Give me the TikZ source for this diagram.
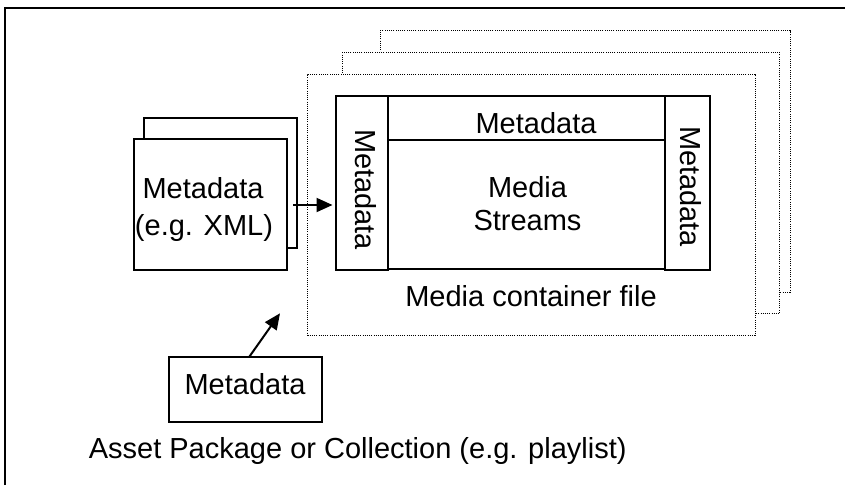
\documentclass[tikz,border=0pt]{standalone}
\usepackage{fontspec}
\setmainfont{Liberation Sans}
\usetikzlibrary{arrows.meta,calc}
\begin{document}
\begin{tikzpicture}[x=1pt,y=-1pt,
  every node/.style={font=\fontsize{29}{34}\selectfont},
  box/.style={draw, line width=2pt, fill=white, inner sep=0pt, outer sep=0pt},
  dotbox/.style={draw, fill=white, line width=1pt, dash pattern=on 1pt off 1.2pt,
                 inner sep=0pt, outer sep=0pt},
  arr/.style={line width=2pt, -{Triangle[length=16pt,width=14pt]}},
  lbl/.style={anchor=base, inner sep=0pt}]
\useasboundingbox (0,0) rectangle (845,485);

% frame round the whole collection
\draw[line width=2pt] (4.5,485) -- (4.5,7.5) -- (845,7.5);

% stack of media container files
\node[dotbox, minimum width=410pt, minimum height=261.3pt] (file3) at (585,161.35) {};
\node[dotbox, minimum width=437pt, minimum height=261.2pt] (file2) at (561,182.9) {};
\node[dotbox, minimum width=447.5pt, minimum height=261pt] (file1) at (531.25,204.5) {};

% container layout
\node[box, minimum width=52pt, minimum height=173.5pt] (metaL) at (361.5,182.75) {};
\node[box, minimum width=277.5pt, minimum height=44.5pt] (metaTop) at (526.25,118.25) {};
\node[box, minimum width=277.5pt, minimum height=129pt] (streams) at (526.25,204.75) {};
\node[box, minimum width=45pt, minimum height=173.5pt] (metaR) at (687.5,182.75) {};

\node[lbl] (tTop) at (536,133) {Metadata};
\node[lbl] (tMedia) at (527.5,197) {Media};
\node[lbl] (tStreams) at (527.5,230.7) {Streams};
\node[lbl, rotate=-90] (tL) at (355,189.5) {Metadata};
\node[lbl, rotate=-90] (tR) at (680,186.5) {Metadata};
\node[lbl] (tFile) at (531,306) {Media container file};

% external metadata documents
\node[box, minimum width=153pt, minimum height=130.6pt] (xmlBack) at (220.8,183) {};
\node[box, minimum width=152.7pt, minimum height=130.7pt] (xmlFront) at (210.35,204.65) {};
\node[lbl] (tXml1) at (203,198) {Metadata};
\node[lbl] (tXml2) at (204,235) {(e.g. XML)};

% collection level metadata
\node[box, minimum width=152.7pt, minimum height=65.6pt] (mdbox) at (245.35,389.5) {};
\node[lbl] (tMd) at (245,394) {Metadata};
\node[lbl, anchor=base west] (tAsset) at (88.6,458.5) {Asset Package or Collection (e.g. playlist)};

% connectors
\coordinate (xmlout) at (293.3,205);
\draw[arr, shorten >=3pt] (xmlout) -- (xmlout -| metaL.west);
\coordinate (collin) at (280,313.3);
\draw[arr] ($(mdbox.north)+(4,0)$) -- (collin);
\end{tikzpicture}
\end{document}
